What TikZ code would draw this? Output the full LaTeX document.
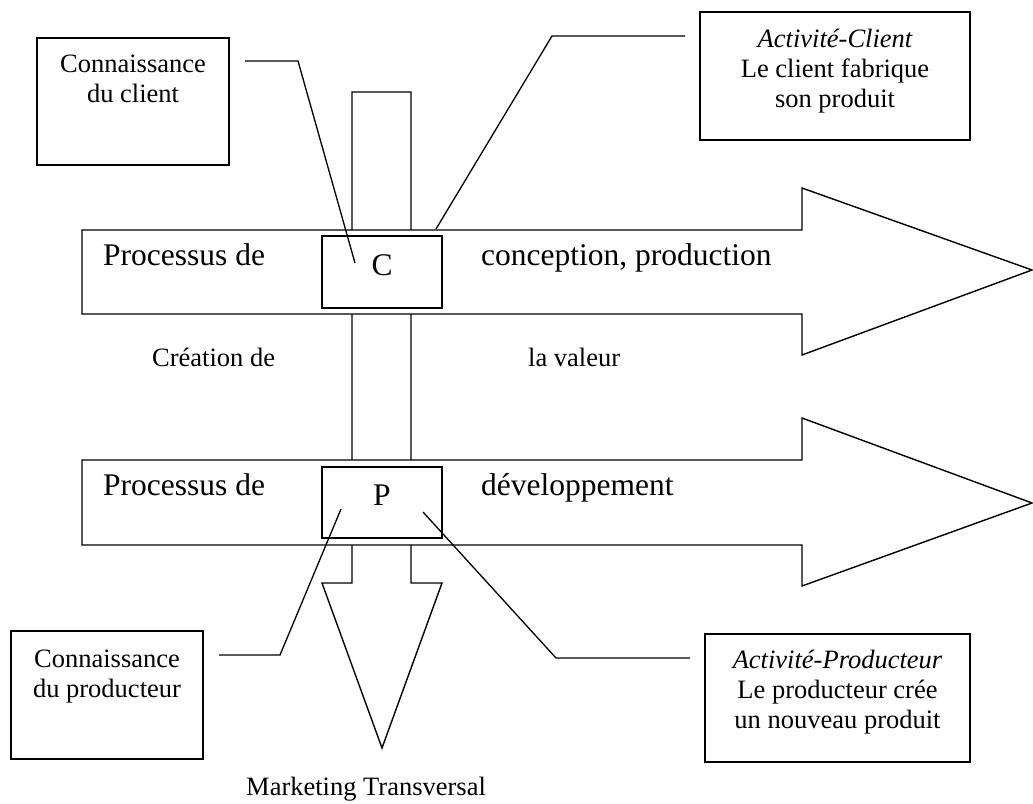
\documentclass[tikz,border=0pt]{standalone}
\usepackage{fontspec}
\setmainfont{Liberation Serif}
\begin{document}
\begin{tikzpicture}[x=1pt,y=-1pt,
  shape line/.style={draw=black,line width=1.4pt,fill=white,line join=miter},
  boxnode/.style={draw=black,line width=1.4pt,fill=white,inner sep=0pt,rectangle},
  big/.style={font=\fontsize{31.5}{34}\selectfont,inner sep=0pt},
  small/.style={font=\fontsize{26.5}{30}\selectfont,inner sep=0pt,align=center},
  link/.style={draw=black,line width=1.3pt}]
\useasboundingbox[fill=white] (0,0) rectangle (1033,803);
% vertical arrow (Marketing Transversal)
\path[shape line] (352,92) -- (411,92) -- (411,583) -- (442,583) -- (382,748) -- (322,583) -- (352,583) -- cycle;
% horizontal arrows
\path[shape line] (82,230) -- (802,230) -- (802,188) -- (1032,270) -- (802,355) -- (802,314) -- (82,314) -- cycle;
\path[shape line] (82,460) -- (802,460) -- (802,418) -- (1032,503) -- (802,586) -- (802,545) -- (82,545) -- cycle;
% C and P boxes
\node[boxnode,minimum width=120pt,minimum height=72pt] (C) at (382,272) {};
\node[big,anchor=base] at (382,275) {C};
\node[boxnode,minimum width=120pt,minimum height=71pt] (P) at (382,502.5) {};
\node[big,anchor=base] at (382,505) {P};
% arrow texts
\node[big,anchor=base west] (t1) at (103,265) {Processus de};
\node[big,anchor=base west] (t2) at (481,265) {conception, production};
\node[big,anchor=base west] (t3) at (103,495) {Processus de};
\node[big,anchor=base west] (t4) at (481,495) {développement};
\node[small,anchor=base west] (t5) at (152,366) {Création de};
\node[small,anchor=base west] (t6) at (528,366) {la valeur};
\node[small,anchor=base west] (t7) at (246,795) {Marketing Transversal};
% text boxes
\node[boxnode,minimum width=192pt,minimum height=127pt] (kc) at (133,101.5) {};
\node[small,anchor=base] at (133,72) {Connaissance};
\node[small,anchor=base] at (133,102) {du client};
\node[boxnode,minimum width=270pt,minimum height=128pt] (ac) at (835,76) {};
\node[small,anchor=base] at (835,47) {\itshape Activité-Client};
\node[small,anchor=base] at (835,77) {Le client fabrique};
\node[small,anchor=base] at (835,107) {son produit};
\node[boxnode,minimum width=192pt,minimum height=128pt] (kp) at (107,695) {};
\node[small,anchor=base] at (107,667) {Connaissance};
\node[small,anchor=base] at (107,697) {du producteur};
\node[boxnode,minimum width=265pt,minimum height=128pt] (ap) at (837.5,698) {};
\node[small,anchor=base] at (837.5,668) {\itshape Activité-Producteur};
\node[small,anchor=base] at (837.5,698) {Le producteur crée};
\node[small,anchor=base] at (837.5,728) {un nouveau produit};
% connectors
\coordinate (kc1) at (245,61);
\coordinate (kc2) at (298,61);
\coordinate (Cin1) at (355,263);
\coordinate (ac1) at (685,36);
\coordinate (ac2) at (552,36);
\coordinate (Ctop) at (436,229);
\coordinate (kp1) at (219,655);
\coordinate (kp2) at (280,655);
\coordinate (Pin1) at (341,509);
\coordinate (ap1) at (690,658);
\coordinate (ap2) at (556,658);
\coordinate (Pin2) at (423,512);
\draw[link] (kc1) -- (kc2) -- (Cin1);
\draw[link] (ac1) -- (ac2) -- (Ctop);
\draw[link] (kp1) -- (kp2) -- (Pin1);
\draw[link] (ap1) -- (ap2) -- (Pin2);
\end{tikzpicture}
\end{document}
